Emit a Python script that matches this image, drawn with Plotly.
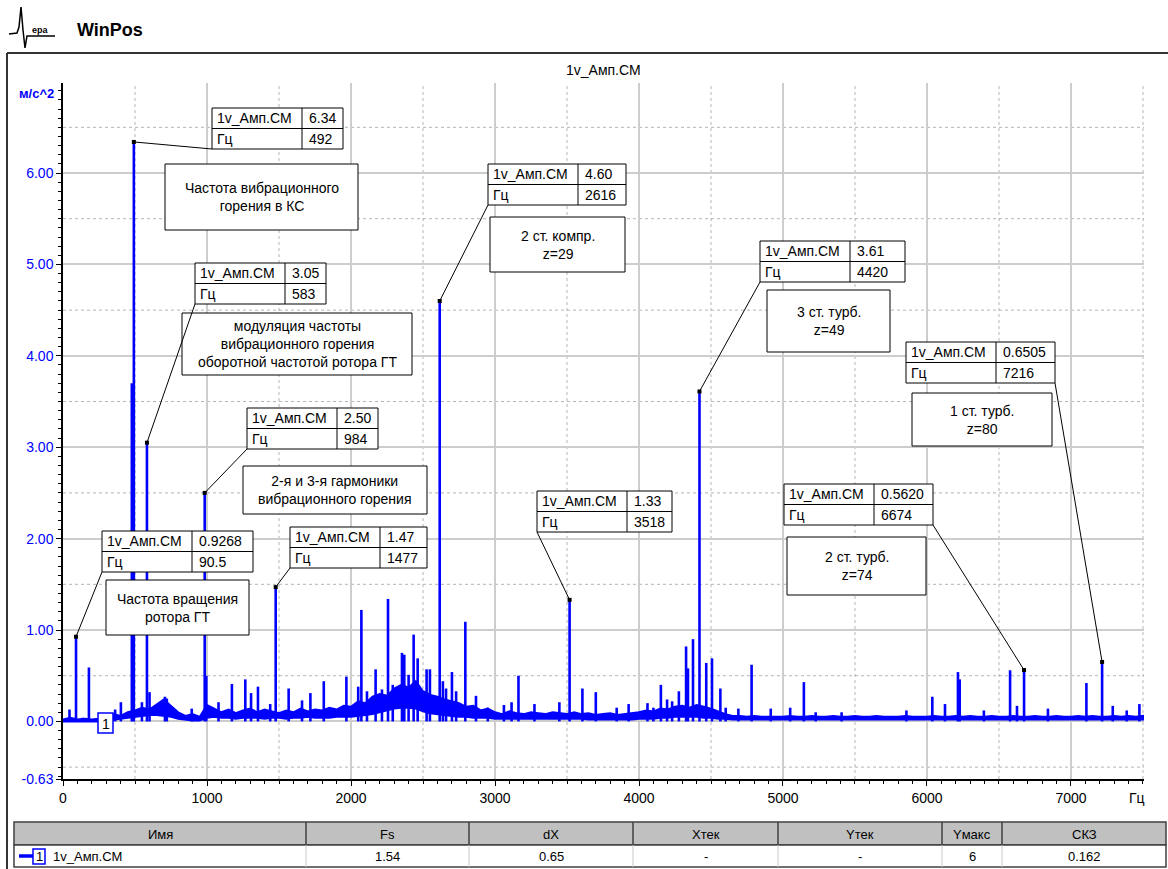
import plotly.graph_objects as go

# ---------------- spectrum data: 1v_Амп.СМ, м/с^2 vs Гц ----------------
# labelled peaks
peak_hz = [90.5, 492, 583, 984, 1477, 2616, 3518, 4420, 6674, 7216]
peak_amp = [0.9268, 6.34, 3.05, 2.50, 1.47, 4.60, 1.33, 3.61, 0.5620, 0.6505]
peak_amp_text = ["0.9268", "6.34", "3.05", "2.50", "1.47", "4.60", "1.33", "3.61", "0.5620", "0.6505"]
peak_hz_text = ["90.5", "492", "583", "984", "1477", "2616", "3518", "4420", "6674", "7216"]
peak_notes = [
    "Частота вращения<br>ротора ГТ",
    "Частота вибрационного<br>горения в КС",
    "модуляция частоты<br>вибрационного горения<br>оборотной частотой ротора ГТ",
    "2-я и 3-я гармоники<br>вибрационного горения",
    None,
    "2 ст. компр.<br>z=29",
    None,
    "3 ст. турб.<br>z=49",
    "2 ст. турб.<br>z=74",
    "1 ст. турб.<br>z=80",
]

# other spectral lines
minor_hz = [45, 136, 180, 362, 402, 478, 548, 601, 708, 721, 894, 995, 1080, 1173, 1266,
            1306, 1354, 1439, 1567, 1660, 1718, 1811, 1968, 2050, 2072, 2111, 2171, 2215,
            2257, 2290, 2354, 2370, 2400, 2435, 2463, 2525, 2548, 2638, 2660, 2701, 2730,
            2794, 2868, 2950, 3062, 3115, 3163, 3274, 3447, 3607, 3700, 3845, 3928, 4059,
            4100, 4152, 4195, 4230, 4277, 4327, 4340, 4375, 4467, 4507, 4565, 4602, 4690,
            4782, 4915, 5050, 5145, 5227, 5407, 5857, 6037, 6125, 6215, 6227, 6395, 6577,
            6625, 6840, 7107, 7290, 7387, 7475]
minor_amp = [0.13, 0.04, 0.59, 0.13, 0.21, 3.70, 0.21, 0.32, 0.27, 0.25, 0.14, 0.50, 0.21, 0.41, 0.46,
             0.31, 0.38, 0.19, 0.36, 0.23, 0.31, 0.44, 0.49, 0.38, 1.22, 0.33, 0.57, 0.35,
             1.34, 0.40, 0.75, 0.73, 0.51, 0.95, 0.69, 0.57, 0.57, 0.44, 0.36, 0.54, 0.33,
             1.09, 0.28, 0.15, 0.18, 0.21, 0.50, 0.19, 0.21, 0.36, 0.32, 0.15, 0.19, 0.20,
             0.15, 0.40, 0.24, 0.22, 0.33, 0.82, 0.58, 0.90, 0.64, 0.69, 0.36, 0.15, 0.14,
             0.62, 0.14, 0.15, 0.43, 0.10, 0.10, 0.12, 0.27, 0.19, 0.54, 0.46, 0.12, 0.56,
             0.17, 0.14, 0.42, 0.17, 0.12, 0.19]

# broadband noise floor (lower / upper edge every 50 Гц, 0..7500)
floor_hz = list(range(0, 7550, 50))
floor_lo = [0.00, 0.00, 0.00, 0.00, 0.00, 0.00, 0.01, 0.02, 0.03, 0.04,
            0.05, 0.06, 0.07, 0.07, 0.06, 0.05, 0.03, 0.02, 0.01, 0.01,
            0.04, 0.05, 0.04, 0.04, 0.03, 0.04, 0.04, 0.04, 0.03, 0.04,
            0.04, 0.03, 0.04, 0.04, 0.05, 0.04, 0.04, 0.04, 0.05, 0.05,
            0.05, 0.06, 0.07, 0.08, 0.10, 0.12, 0.14, 0.15, 0.15, 0.14,
            0.11, 0.09, 0.08, 0.07, 0.06, 0.05, 0.05, 0.04, 0.04, 0.04,
            0.03, 0.03, 0.03, 0.03, 0.03, 0.03, 0.03, 0.03, 0.03, 0.03,
            0.03, 0.03, 0.03, 0.02, 0.02, 0.02, 0.02, 0.02, 0.02, 0.02,
            0.03, 0.03, 0.03, 0.04, 0.04, 0.05, 0.05, 0.05, 0.05, 0.04,
            0.04, 0.03, 0.03, 0.02, 0.02, 0.02, 0.02, 0.02, 0.02, 0.02,
            0.02, 0.02, 0.02, 0.02, 0.02, 0.02, 0.02, 0.02, 0.02, 0.02,
            0.02, 0.02, 0.02, 0.02, 0.02, 0.02, 0.02, 0.02, 0.02, 0.02,
            0.02, 0.02, 0.02, 0.02, 0.02, 0.02, 0.02, 0.02, 0.02, 0.02,
            0.02, 0.02, 0.02, 0.02, 0.02, 0.02, 0.02, 0.02, 0.02, 0.02,
            0.02, 0.02, 0.02, 0.02, 0.02, 0.02, 0.02, 0.02, 0.02, 0.02,
            0.02]
floor_hi = [0.02, 0.04, 0.02, 0.03, 0.02, 0.03, 0.05, 0.08, 0.06, 0.10,
            0.12, 0.15, 0.13, 0.19, 0.24, 0.17, 0.10, 0.06, 0.08, 0.05,
            0.18, 0.14, 0.10, 0.13, 0.09, 0.12, 0.14, 0.10, 0.13, 0.11,
            0.09, 0.12, 0.10, 0.14, 0.11, 0.13, 0.12, 0.15, 0.13, 0.17,
            0.16, 0.22, 0.20, 0.27, 0.30, 0.28, 0.36, 0.40, 0.37, 0.44,
            0.33, 0.29, 0.27, 0.24, 0.22, 0.20, 0.16, 0.17, 0.12, 0.14,
            0.10, 0.08, 0.11, 0.09, 0.08, 0.10, 0.09, 0.08, 0.10, 0.09,
            0.08, 0.10, 0.08, 0.09, 0.07, 0.08, 0.09, 0.07, 0.08, 0.09,
            0.10, 0.12, 0.11, 0.14, 0.13, 0.16, 0.17, 0.15, 0.18, 0.16,
            0.14, 0.11, 0.08, 0.06, 0.06, 0.05, 0.06, 0.05, 0.05, 0.05,
            0.05, 0.06, 0.05, 0.05, 0.06, 0.05, 0.05, 0.06, 0.05, 0.05,
            0.06, 0.05, 0.05, 0.06, 0.05, 0.05, 0.05, 0.06, 0.05, 0.05,
            0.05, 0.06, 0.05, 0.05, 0.06, 0.05, 0.06, 0.05, 0.05, 0.06,
            0.05, 0.05, 0.06, 0.05, 0.05, 0.06, 0.05, 0.05, 0.06, 0.05,
            0.05, 0.06, 0.05, 0.06, 0.05, 0.05, 0.06, 0.05, 0.06, 0.05,
            0.06]

# y tick labels
y_tickvals = [-0.63, 0, 1, 2, 3, 4, 5, 6]
y_ticktext = ["-0.63", "0.00", "1.00", "2.00", "3.00", "4.00", "5.00", "6.00"]

# summary table
table_headers = ["Имя", "Fs", "dX", "Xтек", "Yтек", "Yмакс", "СКЗ"]
table_values = ["1v_Амп.СМ", "1.54", "0.65", "-", "-", "6", "0.162"]

# ---------------- page geometry (pixels) ----------------
W, H = 1168, 869
L, R, T, B = 63, 1144, 83, 779
X0, X1 = 0, 7507
Y0, Y1 = -0.63, 6.985
BLUE = "#0000ff"
FONT = "Liberation Sans, Arial, sans-serif"


def pap_x(px):
    return (px - L) / (R - L)


def pap_y(py):
    return (B - py) / (B - T)


def data_x(px):
    return X0 + (px - L) / (R - L) * (X1 - X0)


def data_y(py):
    return Y1 - (py - T) / (B - T) * (Y1 - Y0)


shapes = []
annotations = []


def rect(x0, y0, x1, y1, fill="white", color="black", width=1, layer="above"):
    shapes.append(dict(type="rect", xref="paper", yref="paper",
                       x0=pap_x(x0), x1=pap_x(x1), y0=pap_y(y1), y1=pap_y(y0),
                       fillcolor=fill, line=dict(color=color, width=width), layer=layer))


def seg(x0, y0, x1, y1, color="black", width=1, dash="solid", layer="above"):
    shapes.append(dict(type="line", xref="paper", yref="paper",
                       x0=pap_x(x0), x1=pap_x(x1), y0=pap_y(y0), y1=pap_y(y1),
                       line=dict(color=color, width=width, dash=dash), layer=layer))


def label(px, py, s, size=14, color="black", anchor="center", bold=False):
    annotations.append(dict(xref="paper", yref="paper", x=pap_x(px), y=pap_y(py),
                            text=f"<b>{s}</b>" if bold else s, showarrow=False,
                            xanchor=anchor, yanchor="middle", align="center",
                            font=dict(family=FONT, size=size, color=color)))


# ---------------- traces ----------------
fig = go.Figure()

fig.add_trace(go.Scatter(
    x=floor_hz + floor_hz[::-1], y=floor_hi + floor_lo[::-1],
    mode="lines", fill="toself", fillcolor=BLUE,
    line=dict(color=BLUE, width=2), hoverinfo="skip", showlegend=False))

line_hz = minor_hz + peak_hz
line_amp = minor_amp + peak_amp
sx, sy = [], []
for f, a in zip(line_hz, line_amp):
    sx += [f, f, None]
    sy += [0, a, None]
fig.add_trace(go.Scatter(x=sx, y=sy, mode="lines",
                         line=dict(color=BLUE, width=2.6), showlegend=False))

fig.add_trace(go.Scatter(x=peak_hz, y=peak_amp, mode="markers",
                         marker=dict(symbol="square", size=4, color="black"),
                         showlegend=False))

# dotted half-step grid
for gx in range(500, 8000, 1000):
    shapes.append(dict(type="line", xref="x", yref="paper", x0=gx, x1=gx, y0=0, y1=1,
                       line=dict(color="#b4b4b4", width=1, dash="dot"), layer="below"))
for gy in [-0.5, 0.5, 1.5, 2.5, 3.5, 4.5, 5.5, 6.5]:
    shapes.append(dict(type="line", xref="paper", yref="y", x0=0, x1=1, y0=gy, y1=gy,
                       line=dict(color="#b4b4b4", width=1, dash="dot"), layer="below"))

# ---------------- peak call-outs ----------------
# value box: left, top, column divider, right ; leader corner ; note box
callout_boxes = [
    ((102, 531, 192, 253), "bl", (106, 580, 249, 635)),
    ((212, 108, 302, 343), "bl", (165, 164, 358, 230)),
    ((195, 263, 285, 326), "bl", (182, 313, 412, 375)),
    ((247, 408, 337, 378), "bl", (243, 466, 427, 514)),
    ((290, 527, 380, 427), "bl", None),
    ((488, 164, 578, 626), "bl", (490, 217, 625, 272)),
    ((537, 491, 627, 672), "bl", None),
    ((760, 241, 850, 905), "bl", (767, 290, 890, 352)),
    ((784, 484, 874, 933), "br", (787, 537, 926, 595)),
    ((906, 342, 996, 1055), "br", (912, 393, 1052, 446)),
]
ROW = 20.5
for i, ((bl_, bt, bd, br_), corner, note) in enumerate(callout_boxes):
    bb = bt + 2 * ROW
    if note is not None:
        nl, nt, nr, nb = note
        rect(nl, nt, nr, nb)
        label((nl + nr) / 2, (nt + nb) / 2, peak_notes[i])
    rect(bl_, bt, br_, bb)
    seg(bl_, bt + ROW, br_, bt + ROW)
    seg(bd, bt, bd, bb)
    label(bl_ + 3, bt + ROW / 2, "1v_Амп.СМ", anchor="left")
    label(bl_ + 3, bt + 1.5 * ROW, "Гц", anchor="left")
    label(bd + 5, bt + ROW / 2, peak_amp_text[i], anchor="left")
    label(bd + 5, bt + 1.5 * ROW, peak_hz_text[i], anchor="left")
    cx = bl_ if corner == "bl" else br_
    shapes.append(dict(type="line", xref="x", yref="y",
                       x0=peak_hz[i], y0=peak_amp[i], x1=data_x(cx), y1=data_y(bb),
                       line=dict(color="black", width=1), layer="above"))

# series tag
rect(98, 713, 113, 733, color=BLUE, width=1.5)
label(105.5, 723.5, "1", size=14)

# ---------------- page decorations ----------------
seg(7, 53, 1168, 53, color="#333333", width=2)
seg(7, 53, 7, 869, color="#333333", width=2)

# logo
logo_pts = [(9, 34), (17, 33), (19, 27), (21, 7), (23, 30), (25, 48), (27, 36), (55, 36)]
path = "M " + " L ".join(f"{pap_x(px)},{pap_y(py)}" for px, py in logo_pts)
shapes.append(dict(type="path", xref="paper", yref="paper", path=path,
                   line=dict(color="black", width=1.5), layer="above"))
label(40, 30, "ера", size=9, bold=True)
label(75, 30, "WinPos", size=18, anchor="left", bold=True)

label((L + R) / 2, 70, "1v_Амп.СМ", size=14)
label(36, 93, "м/с^2", size=13, color=BLUE, bold=True)
label(1137, 798, "Гц", size=14)

# summary table
col_edges = [14, 306, 469, 633, 778, 942, 1002, 1166]
h_top, h_bot, d_bot = 822, 845, 867
rect(14, h_top, 1166, h_bot, fill="#c0c0c0", color="#404040", width=1.5)
rect(14, h_bot, 1166, d_bot, fill="white", color="#404040", width=1.5)
for k in range(1, len(col_edges) - 1):
    seg(col_edges[k], h_top, col_edges[k], h_bot, color="#404040", width=1.5)
    seg(col_edges[k], h_bot, col_edges[k], d_bot, color="#c8c8c8", width=1)
for k, name in enumerate(table_headers):
    label((col_edges[k] + col_edges[k + 1]) / 2, (h_top + h_bot) / 2 + 1, name, size=13)
for k, val in enumerate(table_values):
    if k == 0:
        seg(19, 856, 33, 856, color=BLUE, width=3.5)
        rect(33, 849, 45, 864, color=BLUE, width=1.5)
        label(39, 856.5, "1", size=13)
        label(51, 856.5, val, size=13, anchor="left")
    else:
        label((col_edges[k] + col_edges[k + 1]) / 2, 856.5, val, size=13)

# ---------------- axes & layout ----------------
fig.update_layout(
    width=W, height=H,
    margin=dict(l=L, r=W - R, t=T, b=H - B, pad=0),
    paper_bgcolor="white", plot_bgcolor="white",
    showlegend=False,
    shapes=shapes, annotations=annotations,
    xaxis=dict(range=[X0, X1], tickmode="linear", tick0=0, dtick=1000,
               showgrid=True, gridcolor="#cdcdcd", gridwidth=1.5, zeroline=False,
               showline=True, linecolor="black", linewidth=1.5,
               ticks="outside", ticklen=5, tickcolor="black",
               minor=dict(tickmode="linear", tick0=0, dtick=100, ticks="outside",
                          ticklen=3, tickcolor="black", showgrid=False),
               tickfont=dict(family=FONT, size=14, color="black")),
    yaxis=dict(range=[Y0, Y1], tickmode="array", tickvals=y_tickvals, ticktext=y_ticktext,
               showgrid=True, gridcolor="#cdcdcd", gridwidth=1.5, zeroline=False,
               showline=True, linecolor="black", linewidth=1.5,
               ticks="outside", ticklen=5, tickcolor="black",
               minor=dict(tickmode="linear", tick0=0, dtick=0.1, ticks="outside",
                          ticklen=3, tickcolor="black", showgrid=False),
               tickfont=dict(family=FONT, size=14, color=BLUE)),
)

fig.write_html("out.html")
